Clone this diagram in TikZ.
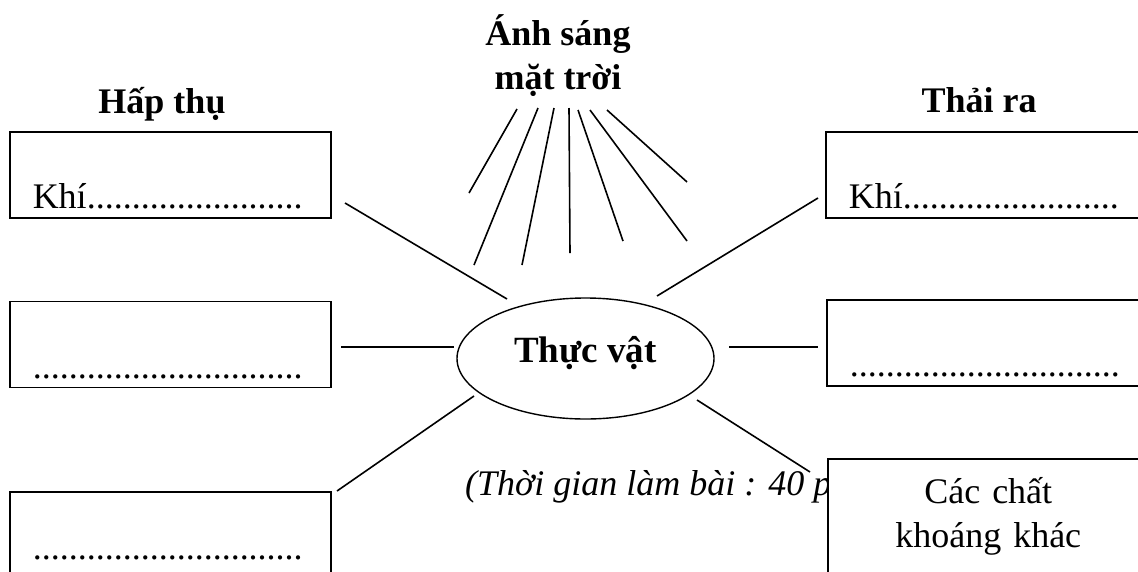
\documentclass[tikz,border=0pt]{standalone}
\usepackage{fontspec}
\setmainfont{Liberation Serif}
\usetikzlibrary{positioning,shapes.geometric}

\begin{document}
\begin{tikzpicture}[
    x=1pt, y=-1pt,
    box/.style={draw, line width=1.5pt, fill=white, text width=275pt, inner xsep=23pt, inner ysep=9pt, align=left, font=\fontsize{36}{44}\selectfont},
    widebox/.style={box, text width=330pt},
    head/.style={font=\fontsize{36}{44}\selectfont\bfseries, inner sep=0pt},
    plantnode/.style={draw, ellipse, line width=1.4pt, minimum width=257pt, minimum height=121pt, inner sep=0pt, font=\fontsize{37}{44}\selectfont\bfseries},
    link/.style={line width=1.6pt},
    node distance=82pt
]
\clip (0,0) rectangle (1138,571);

% headings
\node[head, align=center, anchor=base] (sun) at (558,89) {Ánh sáng\\mặt trời};
\node[head, anchor=base] (absorb) at (162,113) {Hấp thụ};
\node[head, anchor=base] (release) at (979,112) {Thải ra};

% left column
\node[box, anchor=north west, text height=68pt, text depth=0pt] (in1) at (9,131) {Khí........................};
\node[box, below=of in1, text height=68pt, text depth=0pt] (in2) {..............................};
\node[box, anchor=north west, text height=59pt, text depth=30pt] (in3) at (9,491) {..............................};

% centre
\node[plantnode, text height=20pt, text depth=13pt] (plant) at (585.5,358.5) {Thực vật};

% right column
\node[widebox, anchor=north west, text height=68pt, text depth=0pt] (out1) at (825,131) {Khí........................};
\node[widebox, anchor=north west, text height=68pt, text depth=0pt] (out2) at (826,299) {..............................};
\node[anchor=base west, inner sep=0pt, font=\fontsize{36}{44}\selectfont\itshape] (note) at (465,495) {(Thời gian làm bài : 40 p};
\node[box, anchor=north west, inner xsep=0pt, text width=400pt, text height=36pt, text depth=80pt] (out3) at (827,458)
    {\makebox[321pt]{Các chất}\\\makebox[321pt]{khoáng khác}};

% sun rays
\foreach \xa/\ya/\xb/\yb in {517/109/469/193, 538/108/474/265, 554/108/522/265, 569/108/570/253, 578/110/623/241, 590/110/687/241, 607/110/687/182}
    \draw[link] (\xa,\ya) -- (\xb,\yb);

% connector ends
\coordinate (in1-end) at (345,203);
\coordinate (plant-in1) at (507,299);
\coordinate (in2-end) at (341,347);
\coordinate (plant-in2) at (454,347);
\coordinate (in3-end) at (337,491);
\coordinate (plant-in3) at (474,396);
\coordinate (out1-end) at (818,198);
\coordinate (plant-out1) at (657,296);
\coordinate (out2-end) at (818,347);
\coordinate (plant-out2) at (729,347);
\coordinate (out3-end) at (810,472);
\coordinate (plant-out3) at (697,400);

\draw[link] (in1-end) -- (plant-in1);
\draw[link] (in2-end) -- (plant-in2);
\draw[link] (in3-end) -- (plant-in3);
\draw[link] (plant-out1) -- (out1-end);
\draw[link] (plant-out2) -- (out2-end);
\draw[link] (plant-out3) -- (out3-end);

\end{tikzpicture}
\end{document}
